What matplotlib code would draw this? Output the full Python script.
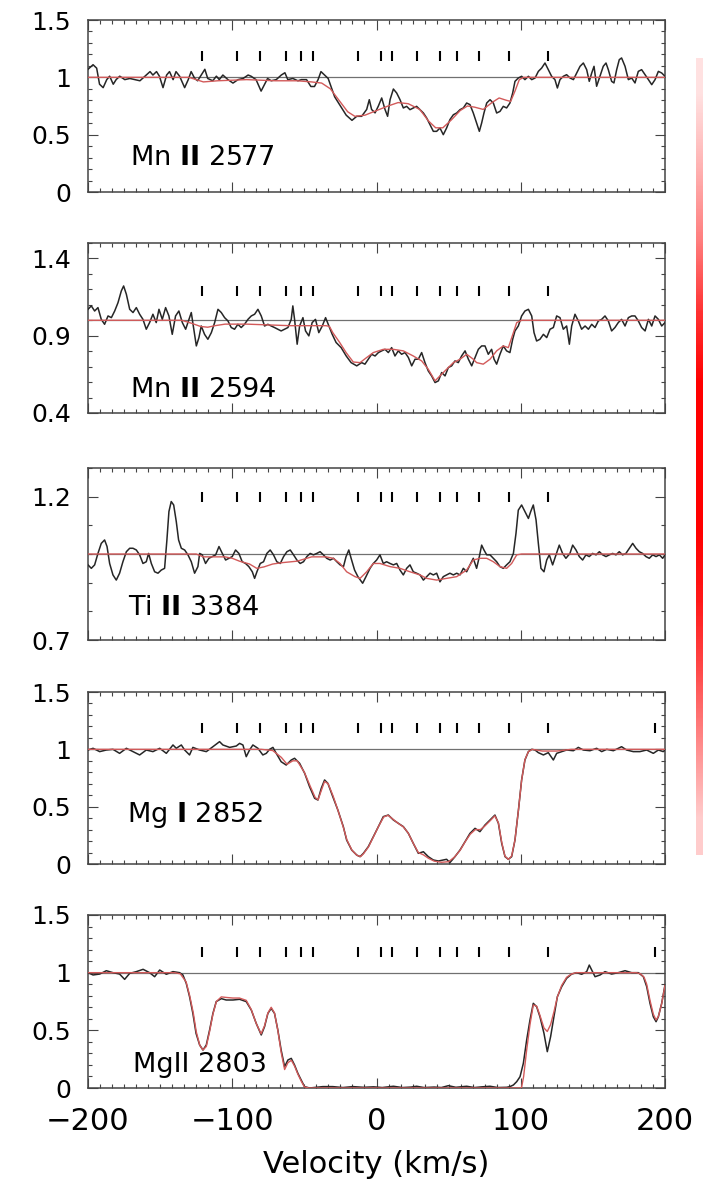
import matplotlib
matplotlib.use("Agg")
import matplotlib.pyplot as plt
import numpy as np
from matplotlib.ticker import MultipleLocator, AutoMinorLocator
from matplotlib.colors import LinearSegmentedColormap

plt.rcParams['font.family'] = ['DejaVu Sans']
plt.rcParams['mathtext.fontset'] = 'dejavusans'

# --- данные: (скорость км/с, нормированный поток) ---

# положения компонент (штрихи сверху)
COMPONENTS = [-121, -97, -81, -63, -52, -44, -13, 3, 11, 28, 44, 56, 71, 92, 119]
COMPONENTS_MG = COMPONENTS + [193]

LABELS = [r"Mn $\mathbf{II}$ 2577", r"Mn $\mathbf{II}$ 2594", r"Ti $\mathbf{II}$ 3384",
          r"Mg $\mathbf{I}$ 2852", "MgII 2803"]

MN2577_OBS = [
    (-200, 1.07), (-196.5, 1.11), (-194, 1.08), (-192, 0.94), (-189.5, 0.91), (-187, 0.98),
    (-185, 1.01), (-182.5, 0.94), (-180.5, 0.98), (-178, 1.01), (-174.5, 0.98), (-171, 0.99),
    (-167.5, 0.98), (-164, 0.97), (-160.5, 1.01), (-157, 1.05), (-155, 1.02), (-152.5, 1.05),
    (-150.5, 1.01), (-148, 0.91), (-145.5, 1.02), (-143.5, 1.05), (-141, 0.98), (-139, 1.05),
    (-136.5, 1.01), (-133, 0.91), (-130.5, 0.98), (-128.5, 1.05), (-126, 0.99), (-124, 0.97),
    (-121.5, 1.02), (-119, 1.07), (-117, 0.99), (-113.5, 0.97), (-111, 1.01), (-109, 0.98),
    (-106.5, 1.02), (-103, 0.98), (-99.5, 0.95), (-96, 0.98), (-92.5, 0.99), (-89, 1.02),
    (-87, 1.01), (-83.5, 0.98), (-80, 0.88), (-77.5, 0.94), (-75.5, 0.99), (-73, 0.97),
    (-69.5, 0.98), (-66, 1.02), (-63.5, 1.04), (-61.5, 0.98), (-58, 0.99), (-54.5, 0.97),
    (-52, 0.98), (-48.5, 0.98), (-45.5, 0.92), (-43, 0.92), (-40.5, 0.98), (-38.5, 1.05),
    (-36, 1.02), (-33.5, 0.99), (-31.5, 0.92), (-29, 0.83), (-25.5, 0.76), (-21, 0.67),
    (-17, 0.625), (-13.7, 0.66), (-10.3, 0.66), (-6.8, 0.72), (-5, 0.805), (-3.4, 0.72),
    (-1, 0.69), (1.3, 0.75), (3.6, 0.82), (5.9, 0.72), (7.7, 0.66), (9.4, 0.805),
    (11.7, 0.898), (14, 0.863), (16.3, 0.805), (18.6, 0.733), (20.9, 0.747), (23.2, 0.718),
    (25.5, 0.733), (27.8, 0.747), (30.2, 0.718), (32.5, 0.689), (34.8, 0.645), (37.1, 0.587),
    (39.4, 0.529), (41.7, 0.529), (44, 0.558), (46.3, 0.5), (48.6, 0.558), (50.9, 0.631),
    (53.3, 0.674), (55.6, 0.689), (57.9, 0.718), (60.2, 0.733), (62.5, 0.776), (64.8, 0.762),
    (67.1, 0.689), (69.4, 0.602), (71.3, 0.529), (72.9, 0.602), (74.5, 0.689), (76.4, 0.776),
    (78.7, 0.805), (81, 0.776), (83.3, 0.689), (85.6, 0.703), (87.9, 0.747), (90.2, 0.733),
    (92.5, 0.776), (94.4, 0.863), (96, 0.965), (98.3, 0.994), (100.6, 1.009), (102.9, 0.98),
    (105.3, 1.009), (107.6, 0.98), (109.9, 0.994), (112.2, 1.052), (114.5, 1.081), (116.8, 1.125),
    (119.1, 1.067), (121.4, 1.009), (123.7, 0.98), (125.4, 0.907), (127.2, 0.98), (129.5, 1.009),
    (131.8, 1.023), (134.2, 0.994), (136.5, 0.98), (138.8, 1.038), (141.1, 1.096), (143.4, 1.125),
    (145.7, 1.067), (147.5, 0.965), (149.2, 1.038), (150.8, 1.096), (152.6, 0.922), (154.5, 0.994),
    (157.2, 1.096), (159.1, 1.125), (160.7, 1.067), (163, 0.965), (164.6, 0.951), (166.5, 1.067),
    (168.3, 1.154), (169.9, 1.169), (172.3, 1.096), (174.6, 0.98), (176.9, 0.994), (179.2, 0.951),
    (181.5, 1.052), (183.8, 1.067), (186.2, 1.023), (188.5, 0.98), (190.8, 0.936), (193.1, 0.98),
    (195.4, 1.052), (197.7, 1.038), (200, 1.009)]
MN2577_FIT = [
    (-200, 1.0), (-130, 1.0), (-120, 0.96), (-110, 0.97), (-90, 0.98), (-70, 0.97), (-55, 0.97),
    (-45, 0.96), (-38, 0.95), (-32, 0.9), (-26, 0.8), (-20, 0.7), (-15, 0.66), (-8, 0.67),
    (0, 0.71), (8, 0.75), (15, 0.78), (22, 0.77), (30, 0.72), (36, 0.62), (41, 0.56), (46, 0.56),
    (52, 0.63), (58, 0.71), (63, 0.75), (68, 0.74), (74, 0.72), (80, 0.78), (85, 0.82), (90, 0.8),
    (93, 0.79), (96, 0.88), (99, 0.98), (102, 1.0), (200, 1.0)]

MN2594_OBS = [
    (-200, 1.071), (-197.7, 1.093), (-195.4, 1.06), (-193.1, 1.082), (-190.8, 1.006), (-188.5, 0.974),
    (-186.1, 1.028), (-183.8, 1.017), (-181.5, 1.06), (-179.2, 1.114), (-176.9, 1.19), (-175.3, 1.222),
    (-173.4, 1.168), (-171.1, 1.071), (-168.8, 1.05), (-166.5, 1.082), (-164.2, 1.039), (-161.9, 1.006),
    (-159.6, 0.942), (-157.3, 0.985), (-155, 1.039), (-152.7, 0.985), (-150.8, 1.071), (-148.5, 1.006),
    (-146.2, 1.082), (-143.9, 1.028), (-141.6, 0.909), (-139.3, 1.028), (-137, 1.06), (-134.6, 0.985),
    (-132.3, 0.942), (-130, 1.006), (-128.4, 1.05), (-126.1, 0.909), (-124.9, 0.834), (-123.1, 0.888),
    (-121.5, 0.963), (-119.2, 0.909), (-116.9, 0.877), (-114.5, 0.92), (-112.2, 0.985), (-109.9, 1.071),
    (-107.6, 1.05), (-105.3, 1.017), (-103, 0.996), (-100.7, 0.953), (-98.4, 0.942), (-96.1, 0.974),
    (-93.8, 0.953), (-91.5, 0.974), (-89.1, 1.006), (-86.8, 1.028), (-84.5, 1.039), (-82.2, 1.071),
    (-79.9, 1.028), (-77.6, 0.963), (-75.3, 0.974), (-73, 0.963), (-70.7, 0.953), (-68.4, 0.942),
    (-66.1, 0.931), (-63.7, 0.942), (-61.4, 0.953), (-59.1, 1.006), (-58, 1.093), (-56.8, 1.006),
    (-55, 0.845), (-53.3, 0.963), (-51, 1.017), (-49.2, 0.931), (-46.9, 0.899), (-44.6, 0.985),
    (-42.3, 1.006), (-40, 0.92), (-37.6, 0.963), (-35.3, 1.017), (-33, 0.963), (-30.7, 0.909),
    (-28, 0.856), (-24.5, 0.823), (-21, 0.769), (-17.6, 0.726), (-13.7, 0.705), (-10.3, 0.726),
    (-8, 0.716), (-5.7, 0.748), (-3.4, 0.78), (-1, 0.769), (1.3, 0.791), (3.6, 0.802),
    (5.9, 0.812), (8.2, 0.791), (10.5, 0.823), (12.8, 0.769), (15.1, 0.802), (17.4, 0.78),
    (19.8, 0.791), (22.1, 0.759), (24.4, 0.705), (26.7, 0.748), (29, 0.748), (31.3, 0.791),
    (33.6, 0.726), (35.9, 0.672), (38.2, 0.64), (40.6, 0.597), (42.9, 0.608), (45.2, 0.662),
    (47.5, 0.64), (49.8, 0.694), (52.1, 0.705), (54.4, 0.737), (56.7, 0.726), (59, 0.769),
    (61.4, 0.802), (63.7, 0.748), (66, 0.705), (68.3, 0.759), (70.6, 0.812), (72.9, 0.834),
    (75.2, 0.834), (77.5, 0.78), (79.8, 0.812), (81.5, 0.748), (83.3, 0.716), (85.6, 0.78),
    (87.9, 0.834), (90.2, 0.802), (92.5, 0.791), (94.4, 0.877), (96, 0.931), (98.3, 0.963),
    (100.6, 1.028), (102.9, 1.06), (105.3, 1.071), (107.6, 1.028), (109.2, 0.92), (111, 0.866),
    (113.3, 0.877), (115.7, 0.909), (118, 0.888), (120.3, 0.942), (122.6, 0.953), (124.9, 1.028),
    (127.2, 1.017), (129.5, 0.942), (131.8, 0.963), (133.7, 0.845), (135.3, 0.963), (137.6, 1.039),
    (139.9, 0.996), (142.2, 0.942), (144.6, 0.963), (146.9, 0.942), (149.2, 0.974), (151.5, 0.953),
    (153.8, 0.996), (156.1, 1.006), (158.4, 1.028), (160.7, 0.996), (163, 0.931), (165.3, 0.953),
    (167.6, 0.985), (169.9, 1.006), (172.3, 0.963), (174.6, 1.017), (176.9, 1.028), (179.2, 1.028),
    (181.5, 0.996), (183.8, 0.953), (186.2, 0.931), (188.5, 1.006), (190.8, 0.963), (193.1, 1.028),
    (195.4, 1.006), (197.7, 0.963), (200, 0.985)]
MN2594_FIT = [
    (-200, 1.0), (-135, 1.0), (-128, 0.98), (-122, 0.96), (-117, 0.955), (-112, 0.965), (-105, 0.975),
    (-90, 0.975), (-75, 0.97), (-60, 0.965), (-45, 0.965), (-35, 0.965), (-32.6, 0.96), (-30.3, 0.92),
    (-25.5, 0.856), (-21, 0.79), (-16.1, 0.73), (-11.4, 0.726), (-6.8, 0.759), (-2.2, 0.791),
    (4.7, 0.812), (11.7, 0.812), (18.6, 0.802), (25.5, 0.769), (31.3, 0.737), (35.9, 0.683),
    (40.6, 0.608), (44, 0.64), (48.6, 0.683), (53.3, 0.726), (57.9, 0.748), (62.5, 0.78),
    (67.1, 0.748), (69.4, 0.726), (74, 0.716), (78.7, 0.748), (83.3, 0.802), (87.9, 0.834),
    (91.4, 0.823), (94.9, 0.92), (97.2, 0.985), (100.6, 1.0), (200, 1.0)]

TI3384_OBS = [
    (-200, 0.962), (-197.7, 0.95), (-195.4, 0.962), (-193.1, 1.002), (-190.8, 1.037), (-188.5, 1.049),
    (-186.8, 1.026), (-185, 0.967), (-182.7, 0.927), (-180.4, 0.909), (-178.1, 0.933), (-175.8, 0.973),
    (-173.4, 1.008), (-171.1, 1.02), (-168.8, 1.02), (-166.5, 1.014), (-164.2, 0.997), (-161.9, 0.967),
    (-159.6, 0.973), (-158, 1.002), (-156.1, 0.967), (-153.8, 0.938), (-151.5, 0.933), (-149.2, 0.944),
    (-146.9, 0.95), (-145.3, 1.049), (-143.9, 1.148), (-142.3, 1.183), (-140.6, 1.171), (-138.8, 1.113),
    (-137.2, 1.049), (-135.3, 1.02), (-133, 1.014), (-130.7, 0.997), (-128.4, 0.973), (-126.1, 0.933),
    (-123.8, 0.956), (-122.6, 1.002), (-120.8, 0.997), (-118.5, 0.967), (-116.2, 0.985), (-113.9, 0.991),
    (-111.5, 0.997), (-109.2, 1.026), (-106.9, 1.002), (-104.6, 0.979), (-102.3, 0.985), (-100, 0.991),
    (-97.7, 1.014), (-95.4, 1.002), (-93.1, 0.973), (-90.8, 0.967), (-88.5, 0.956), (-86.1, 0.938),
    (-84.5, 0.915), (-82.9, 0.938), (-80.6, 0.967), (-78.3, 0.973), (-76, 1.002), (-73.7, 1.014),
    (-71.4, 0.997), (-69.1, 0.973), (-66.7, 0.967), (-64.4, 0.991), (-62.1, 1.008), (-59.8, 1.014),
    (-57.5, 0.997), (-55.2, 0.979), (-52.9, 0.967), (-50.6, 0.973), (-48.3, 0.991), (-46, 1.002),
    (-43.7, 0.997), (-41.4, 1.002), (-39.1, 1.008), (-36.8, 0.997), (-34.5, 0.985), (-32.1, 0.979),
    (-29.8, 0.985), (-27.5, 0.973), (-25.2, 0.962), (-22.9, 0.956), (-21.1, 0.991), (-19.2, 1.014),
    (-17.6, 0.985), (-15.2, 0.944), (-12.9, 0.921), (-9.6, 0.898), (-7.3, 0.921), (-4.5, 0.95),
    (-2.2, 0.967), (0.1, 0.979), (2.4, 0.997), (4.7, 0.967), (7, 0.973), (9.4, 0.967),
    (11.7, 0.962), (14, 0.967), (16.3, 0.944), (18.6, 0.927), (20.9, 0.95), (23.2, 0.962),
    (25.5, 0.938), (27.8, 0.933), (30.2, 0.927), (32.5, 0.909), (34.8, 0.921), (37.1, 0.933),
    (39.4, 0.927), (41.7, 0.933), (44, 0.903), (46.3, 0.921), (48.6, 0.927), (50.9, 0.933),
    (53.3, 0.927), (55.6, 0.933), (57.9, 0.927), (60.2, 0.95), (62.5, 0.938), (64.8, 0.962),
    (67.1, 0.985), (69.4, 0.95), (71.3, 0.991), (72.9, 1.031), (74.5, 1.014), (76.4, 0.997),
    (78.7, 0.997), (81, 0.985), (83.3, 0.973), (85.6, 0.956), (87.9, 0.95), (90.2, 0.962),
    (92.5, 0.973), (94.9, 1.002), (96.7, 1.072), (98.3, 1.153), (100.6, 1.171), (102.9, 1.148),
    (105.3, 1.124), (106.9, 1.148), (108.7, 1.171), (110.6, 1.119), (112.2, 1.037), (114, 0.95),
    (116.1, 0.938), (118, 0.979), (119.8, 0.997), (122.1, 0.962), (124.4, 0.997), (126.7, 1.031),
    (129, 1.002), (131.3, 0.985), (134.1, 1.002), (136, 1.031), (138.3, 1.014), (140.6, 0.991),
    (142.9, 0.979), (145.2, 0.997), (147.5, 0.991), (149.8, 1.002), (152.2, 0.997), (154.5, 1.008),
    (156.8, 0.997), (159.1, 0.991), (161.4, 0.997), (163.7, 1.002), (166, 0.997), (168.3, 1.008),
    (170.6, 0.997), (172.9, 1.002), (175.3, 1.02), (177.6, 1.037), (179.9, 1.02), (182.2, 1.008),
    (184.5, 1.002), (186.8, 0.991), (189.1, 0.985), (191.5, 0.997), (193.8, 0.991), (196.1, 0.997),
    (198.4, 0.985), (200, 0.997)]
TI3384_FIT = [
    (-200, 1.0), (-125, 1.0), (-120, 0.99), (-105, 0.99), (-100, 0.985), (-95, 0.975), (-88, 0.965),
    (-83, 0.95), (-78, 0.955), (-72, 0.965), (-65, 0.97), (-55, 0.975), (-45, 0.99), (-35, 0.99),
    (-30, 0.985), (-25.3, 0.967), (-20.7, 0.938), (-14.9, 0.921), (-11.4, 0.915), (-6.8, 0.938),
    (-2.2, 0.967), (2.4, 0.967), (9.4, 0.956), (16.3, 0.95), (23.2, 0.938), (30.2, 0.927),
    (34.8, 0.915), (41.7, 0.909), (48.6, 0.915), (55.6, 0.921), (62.5, 0.944), (67.1, 0.979),
    (71.7, 0.985), (76.4, 0.985), (81, 0.973), (85.6, 0.956), (90.2, 0.95), (93.7, 0.967),
    (97.2, 0.997), (100.6, 1.0), (200, 1.0)]

MG2852_OBS = [
    (-200, 0.994), (-196.5, 1.009), (-191.9, 0.98), (-187.3, 0.994), (-182.7, 1.0), (-178.1, 0.965),
    (-173.4, 1.009), (-168.8, 0.98), (-164.2, 0.951), (-159.6, 0.994), (-155, 0.98), (-150.3, 1.009),
    (-145.7, 0.965), (-141.1, 1.038), (-138.8, 1.009), (-135.3, 1.038), (-133, 0.994), (-129.6, 0.951),
    (-127.3, 1.017), (-122.6, 0.994), (-118, 0.98), (-113.4, 1.023), (-108.8, 1.067), (-106.5, 1.038),
    (-101.8, 1.017), (-97.2, 1.029), (-94.9, 1.052), (-92.6, 1.038), (-90.3, 0.936), (-88, 0.994),
    (-85.7, 1.038), (-82.2, 1.009), (-78.8, 0.951), (-76.4, 0.965), (-74.1, 1.0), (-71.8, 1.017),
    (-69.5, 0.965), (-66.1, 0.892), (-62.6, 0.863), (-59.1, 0.907), (-56.8, 0.922), (-53.3, 0.878),
    (-49.8, 0.791), (-46.4, 0.674), (-42.9, 0.573), (-40.6, 0.558), (-38.3, 0.66), (-36, 0.733),
    (-33.7, 0.703), (-30.3, 0.587), (-26.8, 0.471), (-23, 0.326), (-20.7, 0.209), (-17.2, 0.122),
    (-13.7, 0.078), (-11.4, 0.064), (-9.1, 0.093), (-5.7, 0.151), (-2.2, 0.238), (1.3, 0.326),
    (4.7, 0.413), (8.2, 0.427), (11.7, 0.384), (15.1, 0.355), (18.6, 0.326), (22.1, 0.267),
    (25.5, 0.18), (29, 0.093), (32.5, 0.107), (35.9, 0.064), (39.4, 0.035), (42.9, 0.026),
    (46.3, 0.035), (48.6, 0.041), (50.9, 0.012), (54.4, 0.064), (57.9, 0.122), (61.4, 0.195),
    (64.8, 0.267), (68.3, 0.311), (71.7, 0.282), (75.2, 0.34), (78.7, 0.384), (82.1, 0.427),
    (84.5, 0.355), (86.8, 0.18), (89.1, 0.064), (91.4, 0.041), (93.7, 0.064), (96, 0.209),
    (98.4, 0.471), (100.6, 0.733), (102.9, 0.907), (105.3, 0.98), (107.6, 1.0), (109.9, 0.994),
    (112.2, 0.971), (115.7, 0.951), (119.1, 0.971), (122.6, 0.907), (124.9, 0.965), (128.4, 0.98),
    (131.8, 0.994), (136.5, 0.988), (139.9, 1.017), (143.4, 0.994), (148, 0.988), (152.6, 1.009),
    (156.1, 0.98), (159.6, 1.0), (164.2, 0.988), (169.9, 1.023), (173.4, 0.994), (178, 0.98),
    (182.6, 0.98), (187.3, 0.994), (191.9, 0.965), (195.4, 0.994), (198.8, 0.98), (200, 0.994)]
MG2852_FIT = [
    (-200, 1.0), (-80, 1.0), (-72, 0.99), (-66, 0.93), (-62, 0.87), (-58, 0.9), (-55, 0.9),
    (-50, 0.8), (-46, 0.68), (-42.5, 0.58), (-40.5, 0.56), (-38, 0.65), (-36, 0.72), (-33.5, 0.7),
    (-30, 0.59), (-26.5, 0.46), (-23, 0.32), (-20.5, 0.21), (-17, 0.12), (-13.5, 0.075), (-11, 0.065),
    (-9, 0.09), (-5.5, 0.15), (-2, 0.24), (1.5, 0.33), (5, 0.41), (8, 0.425), (11.5, 0.39),
    (15, 0.355), (18.5, 0.325), (22, 0.27), (25.5, 0.18), (29, 0.1), (32.5, 0.08), (36, 0.05),
    (40, 0.025), (45, 0.015), (50, 0.02), (54, 0.06), (58, 0.12), (61.5, 0.195), (65, 0.26),
    (68.5, 0.3), (72, 0.3), (75, 0.33), (79, 0.38), (82, 0.42), (84.5, 0.36), (86.8, 0.19),
    (89, 0.07), (91.4, 0.04), (93.7, 0.07), (96, 0.21), (98.4, 0.47), (100.6, 0.73), (102.9, 0.91),
    (105.3, 0.98), (108, 1.0), (115, 0.985), (125, 0.985), (135, 1.0), (200, 1.0)]

MG2803_OBS = [
    (-200, 1.0), (-196.5, 0.98), (-191.9, 0.988), (-187.3, 1.017), (-182.7, 1.0), (-178.1, 0.988),
    (-174.6, 0.942), (-171.1, 0.994), (-166.5, 1.009), (-161.8, 1.029), (-157.3, 1.0), (-153.8, 0.965),
    (-150.3, 1.023), (-145.7, 0.986), (-141.1, 1.009), (-136.5, 1.0), (-134.2, 0.98), (-131.9, 0.908),
    (-129.6, 0.792), (-127.3, 0.647), (-125.1, 0.474), (-122.6, 0.373), (-120.3, 0.329), (-118, 0.373),
    (-115.7, 0.503), (-113.4, 0.647), (-111.1, 0.749), (-107.6, 0.775), (-104.2, 0.763), (-99.5, 0.763),
    (-94.9, 0.769), (-90.3, 0.749), (-86.8, 0.676), (-83.4, 0.561), (-79.9, 0.46), (-77.6, 0.532),
    (-75.3, 0.647), (-73, 0.69), (-70.7, 0.647), (-68.4, 0.503), (-66.1, 0.329), (-63.7, 0.185),
    (-61.4, 0.243), (-59.1, 0.257), (-56.8, 0.199), (-54.5, 0.127), (-52.2, 0.069), (-49.9, 0.012),
    (-46.4, 0.0), (-41.8, 0.006), (-37.2, 0.012), (-30.3, 0.012), (-23.3, 0.004), (-16.4, 0.012),
    (-9, 0.006), (-2, 0.01), (4, 0.004), (11.7, 0.015), (18, 0.004), (24, 0.008), (27.8, 0.015),
    (33, 0.004), (40, 0.008), (45, 0.004), (49.8, 0.02), (55, 0.006), (62.5, 0.015), (68, 0.004),
    (73, 0.01), (78.7, 0.015), (84, 0.004), (90.2, 0.006), (92.5, 0.012), (94.9, 0.026),
    (97.2, 0.055), (99.5, 0.098), (101.8, 0.214), (104.1, 0.416), (106.4, 0.59), (108.7, 0.734),
    (111, 0.705), (113.3, 0.618), (116.1, 0.474), (118.4, 0.315), (120.7, 0.445), (123, 0.618),
    (125.4, 0.792), (128.4, 0.879), (131.8, 0.951), (135.3, 0.988), (138.8, 1.0), (142.2, 0.986),
    (145.7, 1.009), (147.5, 1.066), (149.2, 1.023), (151.5, 0.965), (155, 0.98), (158.4, 1.009),
    (163, 0.988), (167.6, 1.0), (172.3, 1.017), (176.9, 1.0), (181.5, 1.0), (185, 0.965),
    (187.3, 0.879), (189.6, 0.734), (191.9, 0.618), (193.8, 0.575), (195.4, 0.618), (197.7, 0.734),
    (200, 0.893)]
MG2803_FIT = [
    (-200, 1.0), (-140, 1.0), (-136, 0.99), (-132, 0.92), (-129.5, 0.8), (-127, 0.65), (-125, 0.49),
    (-122.5, 0.37), (-120.3, 0.33), (-118, 0.36), (-115.7, 0.49), (-113.4, 0.64), (-111, 0.75),
    (-107.6, 0.79), (-104, 0.785), (-99.5, 0.78), (-95, 0.78), (-90.3, 0.76), (-86.8, 0.68),
    (-83.4, 0.56), (-80, 0.47), (-77.6, 0.54), (-75.3, 0.65), (-73, 0.7), (-70.7, 0.65),
    (-68.4, 0.5), (-66.1, 0.31), (-63.7, 0.16), (-61.4, 0.22), (-59, 0.24), (-56.8, 0.19),
    (-54.5, 0.12), (-52.2, 0.06), (-50, 0.01), (-47, 0.0), (100.5, 0.0), (102, 0.1), (104.1, 0.33),
    (106.4, 0.55), (108.7, 0.72), (111, 0.71), (113.3, 0.63), (116.1, 0.52), (118.4, 0.49),
    (120.7, 0.55), (123, 0.66), (125.4, 0.79), (128.4, 0.89), (131.8, 0.96), (135.3, 0.99),
    (138.8, 1.0), (180, 1.0), (183, 0.99), (185.5, 0.96), (187.3, 0.9), (189.6, 0.76), (191.9, 0.64),
    (193.8, 0.59), (195.4, 0.62), (197.7, 0.73), (200, 0.89)]

OBS = [MN2577_OBS, MN2594_OBS, TI3384_OBS, MG2852_OBS, MG2803_OBS]
FIT = [MN2577_FIT, MN2594_FIT, TI3384_FIT, MG2852_FIT, MG2803_FIT]

# оси: пределы и подписи
YLIMS = [(0, 1.5), (0.4, 1.5), (0.7, 1.3), (0, 1.5), (0, 1.5)]
YTICKS = [[0, 0.5, 1, 1.5], [0.4, 0.9, 1.4], [0.7, 1.2], [0, 0.5, 1, 1.5], [0, 0.5, 1, 1.5]]
YTICKLABELS = [['0', '0.5', '1', '1.5'], ['0.4', '0.9', '1.4'], ['0.7', '1.2'],
               ['0', '0.5', '1', '1.5'], ['0', '0.5', '1', '1.5']]

# красная полоса у правого края (артефакт скана), яркость сверху вниз
BAR_LEVELS = [0.12, 0.3, 0.5, 0.8, 1.0, 1.0, 1.0, 0.9, 0.7, 0.45, 0.2]


def main():
    W, H = 703, 1192
    fig = plt.figure(figsize=(W / 100, H / 100), dpi=100)

    # верх/низ панелей в пикселях
    panel_px = [(20, 192), (243, 413), (468, 640), (692, 864), (915, 1088)]
    label_pos = [(-171, 0.235), (-171, 0.505), (-172, 0.787), (-173, 0.366), (-168.5, 0.141)]
    comp_y = [1.19, 1.19, 1.2, 1.19, 1.18]

    for i in range(5):
        top, bot = panel_px[i]
        ax = fig.add_axes([88 / W, 1 - bot / H, 577 / W, (bot - top) / H])

        obs = np.array(OBS[i])
        fit = np.array(FIT[i])

        ax.axhline(1.0, color='#707070', lw=0.9, zorder=1)
        ax.plot(obs[:, 0], obs[:, 1], color='#262626', lw=1.1, zorder=3)
        ax.plot(fit[:, 0], fit[:, 1], color='#d25a5a', lw=1.0, zorder=4)

        comps = COMPONENTS_MG if i >= 3 else COMPONENTS
        ax.plot(comps, [comp_y[i]] * len(comps), ls='none', marker='|',
                ms=7, mew=1.5, color='black', zorder=5)

        ax.text(label_pos[i][0], label_pos[i][1], LABELS[i], fontsize=19.5,
                va='baseline', ha='left', zorder=6)

        ax.set_xlim(-200, 200)
        ax.set_ylim(*YLIMS[i])
        ax.xaxis.set_major_locator(MultipleLocator(100))
        ax.xaxis.set_minor_locator(AutoMinorLocator(12))
        ax.set_yticks(YTICKS[i], YTICKLABELS[i])
        ax.yaxis.set_minor_locator(MultipleLocator(0.1))

        ax.tick_params(which='both', direction='in', top=True, right=True,
                       width=0.8, color='#444444')
        ax.tick_params(which='major', length=7)
        ax.tick_params(which='minor', length=3)
        ax.tick_params(axis='y', labelsize=18, pad=12)
        ax.tick_params(axis='x', labelsize=22, pad=14)
        for sp in ax.spines.values():
            sp.set_color('#444444')
            sp.set_linewidth(1.1)

        if i < 4:
            ax.tick_params(labelbottom=False)
        else:
            ax.set_xlabel('Velocity (km/s)', fontsize=22, labelpad=10)

    # полоса справа
    bar_ax = fig.add_axes([696 / W, 1 - 855 / H, 7 / W, 797 / H])
    cmap = LinearSegmentedColormap.from_list('wr', ['#ffffff', '#ff0000'])
    bar_ax.imshow(np.array(BAR_LEVELS)[:, None], cmap=cmap, vmin=0, vmax=1,
                  aspect='auto', interpolation='bilinear')
    bar_ax.axis('off')

    fig.savefig('out.png', dpi=100)


if __name__ == "__main__":
    main()
